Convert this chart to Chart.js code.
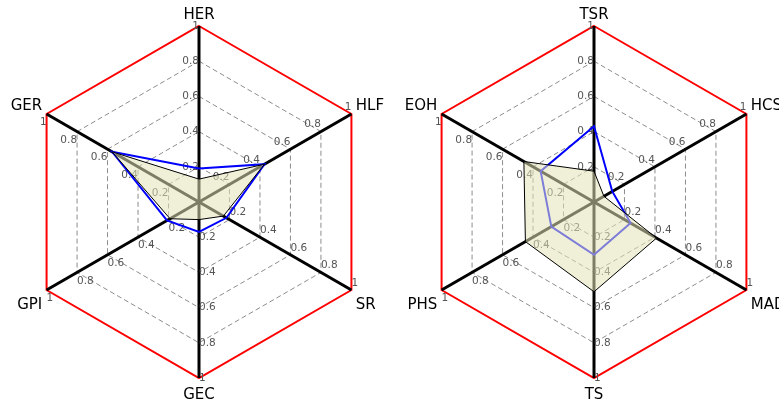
<!DOCTYPE html>
<html>
<head>
<meta charset="utf-8">
<script src="https://cdn.jsdelivr.net/npm/chart.js@4/dist/chart.umd.min.js"></script>
<style>
  html, body { margin: 0; padding: 0; background: #fff; width: 779px; height: 402px; overflow: hidden; }
  .panel { position: absolute; top: 0; height: 402px; }
  #p1 { left: 0; width: 390px; }
  #p2 { left: 390px; width: 389px; }
  canvas { display: block; }
</style>
</head>
<body>
<div class="panel" id="p1"><canvas id="c1" width="390" height="402"></canvas></div>
<div class="panel" id="p2"><canvas id="c2" width="389" height="402"></canvas></div>
<script>
// Axes, clockwise from the top spoke
const leftLabels = ['HER', 'HLF', 'SR', 'GEC', 'GPI', 'GER'];
const leftArea   = [0.13, 0.43, 0.16, 0.10, 0.19, 0.57];
const leftLine   = [0.19, 0.43, 0.18, 0.17, 0.21, 0.57];

const rightLabels = ['TSR', 'HCS', 'MAD', 'TS', 'PHS', 'EOH'];
const rightArea   = [0.175, 0.065, 0.41, 0.51, 0.45, 0.46];
const rightLine   = [0.43, 0.12, 0.24, 0.30, 0.28, 0.35];

// Ring values and the text written along every spoke
const tickValues = [0.2, 0.4, 0.6, 0.8, 1];
const tickText   = ['0.2', '0.4', '0.6', '0.8', '1'];

// Where the ring labels sit relative to each spoke
const tickAnchor = [
  { align: 'right', dy: 0 },
  { align: 'right', dy: -7 },
  { align: 'left',  dy: -7 },
  { align: 'left',  dy: 0 },
  { align: 'left',  dy: 8.5 },
  { align: 'right', dy: 8.5 }
];

// Ring labels on all six spokes, drawn under the filled area
const spokeTicks = {
  id: 'spokeTicks',
  beforeDatasetsDraw(chart) {
    const r = chart.scales.r;
    const ctx = chart.ctx;
    ctx.save();
    ctx.font = '10.5px "DejaVu Sans"';
    ctx.fillStyle = '#555555';
    ctx.textBaseline = 'middle';
    chart.data.labels.forEach((_, i) => {
      const a = tickAnchor[i];
      ctx.textAlign = a.align;
      tickValues.forEach((v, k) => {
        const p = r.getPointPositionForValue(i, v);
        ctx.fillText(tickText[k], p.x, p.y + a.dy);
      });
    });
    ctx.restore();
  }
};

// Axis names just outside the outer hexagon
const axisTitles = {
  id: 'axisTitles',
  afterDraw(chart) {
    const r = chart.scales.r;
    const ctx = chart.ctx;
    ctx.save();
    ctx.font = '15px "DejaVu Sans"';
    ctx.fillStyle = '#000000';
    ctx.textBaseline = 'middle';
    chart.data.labels.forEach((lab, i) => {
      const p = r.getPointPosition(i, r.drawingArea + 5);
      const deg = Math.round(r.getIndexAngle(i) * 180 / Math.PI) % 360;
      const align = (deg === 0 || deg === 180) ? 'center' : (deg < 180 ? 'left' : 'right');
      const y = (deg > 270 || deg < 90) ? p.y - 5.5 : p.y + 12.5;
      ctx.textAlign = align;
      ctx.fillText(lab, p.x, y);
    });
    ctx.restore();
  }
};

const isOuter = c => c.tick && c.tick.value >= 0.999;

function makeRadar(id, labels, areaVals, lineVals, cx) {
  return new Chart(document.getElementById(id), {
    type: 'radar',
    data: {
      labels: labels,
      datasets: [
        {
          data: areaVals,
          backgroundColor: 'rgba(227,227,184,0.55)',
          borderColor: '#000000',
          borderWidth: 1,
          fill: true,
          pointRadius: 0
        },
        {
          data: lineVals,
          backgroundColor: 'rgba(0,0,0,0)',
          borderColor: '#0000ff',
          borderWidth: 2,
          fill: false,
          pointRadius: 0
        }
      ]
    },
    options: {
      responsive: false,
      animation: false,
      events: [],
      plugins: { legend: { display: false }, tooltip: { enabled: false } },
      elements: { line: { tension: 0 } },
      scales: {
        r: {
          min: 0,
          max: 1,
          ticks: { display: false, stepSize: 0.2 },
          pointLabels: { display: false },
          angleLines: { color: '#000000', lineWidth: 3 },
          grid: {
            color: c => isOuter(c) ? '#ff0000' : '#8c8c8c',
            lineWidth: c => isOuter(c) ? 2 : 1
          },
          border: { dash: c => isOuter(c) ? [] : [5, 3] },
          afterFit: s => { s.xCenter = cx; s.yCenter = 202; s.drawingArea = 176; }
        }
      }
    },
    plugins: [spokeTicks, axisTitles]
  });
}

makeRadar('c1', leftLabels, leftArea, leftLine, 199);
makeRadar('c2', rightLabels, rightArea, rightLine, 204);
</script>
</body>
</html>
